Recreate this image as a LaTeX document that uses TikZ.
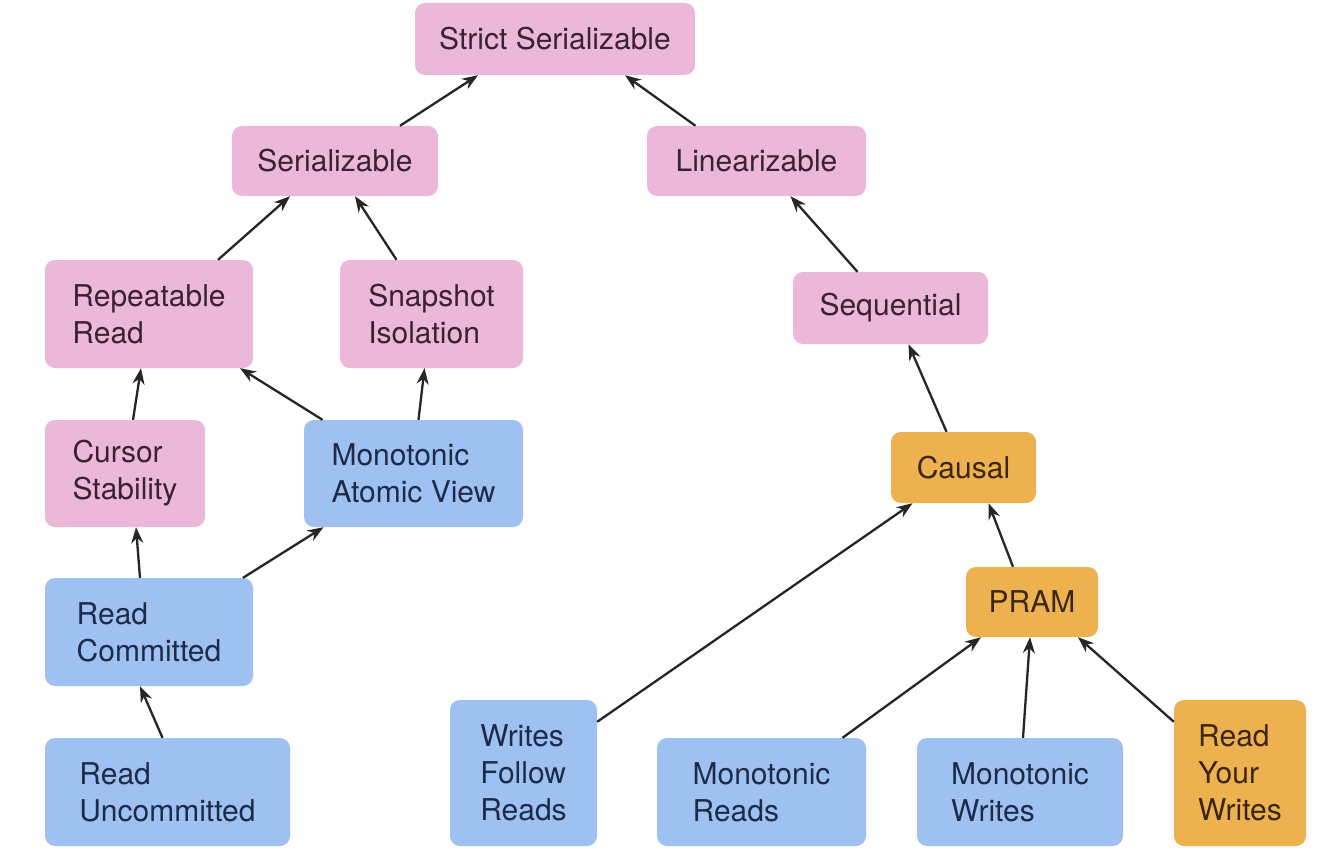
\documentclass[tikz,border=0pt]{standalone}
\usepackage{fontspec}
\setmainfont{TeX Gyre Heros}
\usetikzlibrary{arrows.meta}
\definecolor{pinkbox}{HTML}{EBB8DA}
\definecolor{bluebox}{HTML}{9EC1F2}
\definecolor{orangebox}{HTML}{EDB24F}
\definecolor{pinktext}{HTML}{3A2232}
\definecolor{bluetext}{HTML}{1C2B48}
\definecolor{orangetext}{HTML}{3A2612}
\tikzset{
  box/.style={rounded corners=10pt, inner sep=0pt, align=left,
    font=\fontsize{30}{37}\selectfont},
  pinkn/.style={box, fill=pinkbox, text=pinktext},
  bluen/.style={box, fill=bluebox, text=bluetext},
  orangen/.style={box, fill=orangebox, text=orangetext},
  sz/.style 2 args={minimum width=#1, minimum height=#2},
  arr/.style={-{Stealth[length=16pt,width=12pt]}, line width=2.3pt, black!85}
}
\begin{document}
\begin{tikzpicture}[x=1pt,y=-1pt]
\useasboundingbox (0,0) rectangle (1320,856);
\fill[white] (0,0) rectangle (1320,856);

\node[pinkn, sz={280pt}{72pt}] (ss) at (555,39) {Strict Serializable};
\node[pinkn, sz={206pt}{70pt}] (ser) at (335,161) {Serializable};
\node[pinkn, sz={219pt}{70pt}] (lin) at (756.5,161) {Linearizable};
\node[pinkn, sz={208pt}{108pt}] (rr) at (149,314) {Repeatable\\Read};
\node[pinkn, sz={183pt}{108pt}] (si) at (431.5,314) {Snapshot\\Isolation};
\node[pinkn, sz={195pt}{72pt}] (seq) at (890.5,308) {Sequential};
\node[pinkn, sz={160pt}{107pt}] (cs) at (125,473.5) {Cursor\\Stability};
\node[bluen, sz={219pt}{107pt}] (mav) at (413.5,473.5) {Monotonic\\Atomic View};
\node[orangen, sz={145pt}{71pt}] (causal) at (963.5,467.5) {Causal};
\node[bluen, sz={208pt}{108pt}] (rc) at (149,632) {Read\\Committed};
\node[orangen, sz={132pt}{70pt}] (pram) at (1032,602) {PRAM};
\node[bluen, sz={245pt}{108pt}] (ru) at (167.5,792) {Read\\Uncommitted};
\node[bluen, sz={147pt}{146pt}] (wfr) at (523.5,773) {Writes\\Follow\\Reads};
\node[bluen, sz={209pt}{108pt}] (mr) at (761.5,792) {Monotonic\\Reads};
\node[bluen, sz={206pt}{108pt}] (mw) at (1020,792) {Monotonic\\Writes};
\node[orangen, sz={132pt}{146pt}] (ryw) at (1240,773) {Read\\Your\\Writes};

\draw[arr] ([xshift=65pt]ser.north) -- ([xshift=-77pt]ss.south);
\draw[arr] ([xshift=-61pt]lin.north) -- ([xshift=70pt]ss.south);
\draw[arr] ([xshift=69pt]rr.north) -- ([xshift=-45pt]ser.south);
\draw[arr] ([xshift=-35pt]si.north) -- ([xshift=20pt]ser.south);
\draw[arr] ([xshift=-33pt]seq.north) -- ([xshift=34pt]lin.south);
\draw[arr] ([xshift=8pt]cs.north) -- ([xshift=-8pt]rr.south);
\draw[arr] ([xshift=-91pt]mav.north) -- ([xshift=91pt]rr.south);
\draw[arr] ([xshift=5pt]mav.north) -- ([xshift=-7pt]si.south);
\draw[arr] ([xshift=-17pt]causal.north) -- ([xshift=18pt]seq.south);
\draw[arr] ([xshift=-9pt]rc.north) -- ([xshift=11pt]cs.south);
\draw[arr] ([xshift=94pt]rc.north) -- ([xshift=-90pt]mav.south);
\draw[arr] ([xshift=-5pt]ru.north) -- ([xshift=-9pt]rc.south);
\draw[arr] ([yshift=-22pt]wfr.north east) -- ([xshift=-51pt]causal.south);
\draw[arr] ([xshift=-19pt]pram.north) -- ([xshift=25pt]causal.south);
\draw[arr] ([xshift=81pt]mr.north) -- ([xshift=-51pt]pram.south);
\draw[arr] ([xshift=3pt]mw.north) -- ([xshift=-2pt]pram.south);
\draw[arr] ([yshift=-22pt]ryw.north west) -- ([xshift=46pt]pram.south);
\end{tikzpicture}
\end{document}
